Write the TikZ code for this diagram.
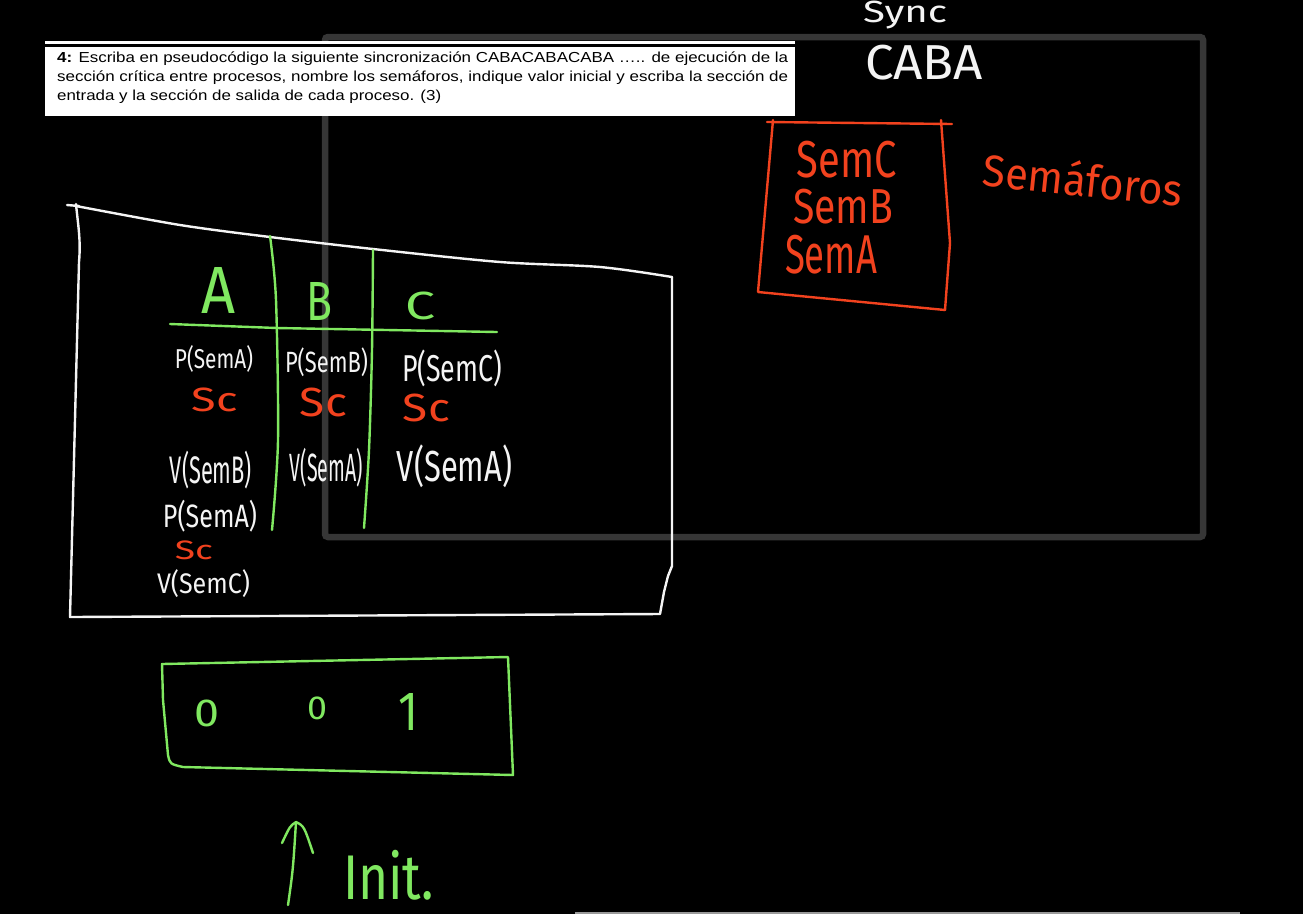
\documentclass[tikz,border=0pt]{standalone}
\usepackage{fontspec}
\setmainfont{Liberation Sans}
\newfontfamily\handfont{Fira Sans}
\usepackage{graphicx}
\definecolor{wht}{HTML}{F4F4F4}
\definecolor{redink}{HTML}{F2421E}
\definecolor{greenink}{HTML}{80E860}
\definecolor{framegray}{HTML}{363636}
\definecolor{linegray}{HTML}{9A9A9A}
\newcommand\hw[3]{\resizebox*{#1pt}{#2pt}{\handfont #3}}
\newcommand\hdrline[2]{\resizebox{#1pt}{\height}{\fontsize{14.5}{16}\selectfont #2}}
\tikzset{
  hand/.style={inner sep=0pt, outer sep=0pt},
  wline/.style={draw=wht, line width=2.4pt, line cap=round, line join=round},
  gline/.style={draw=greenink, line width=2.4pt, line cap=round, line join=round},
  rline/.style={draw=redink, line width=2.4pt, line cap=round, line join=round},
}
\begin{document}
\begin{tikzpicture}[x=1pt,y=-1pt]
\useasboundingbox (0,0) rectangle (1303,914);
\fill[black] (0,0) rectangle (1303,914);
% grey frame
\draw[framegray, line width=6.5pt, rounded corners=3pt] (325,37) rectangle (1203,537);
% header box
\fill[white] (45,41) rectangle (795,116);
\draw[black, line width=2.5pt] (45,45.5) -- (795,45.5);
\node[anchor=base west, inner sep=0pt] (h1) at (57,62) {\hdrline{731}{\textbf{4:} Escriba en pseudocódigo la siguiente sincronización CABACABACABA ….. de ejecución de la}};
\node[anchor=base west, inner sep=0pt] (h2) at (57,81) {\hdrline{731}{sección crítica entre procesos, nombre los semáforos, indique valor inicial y escriba la sección de}};
\node[anchor=base west, inner sep=0pt] (h3) at (57,100) {\hdrline{384}{entrada y la sección de salida de cada proceso. (3)}};
% bottom grey line
\draw[linegray, line width=2pt] (575,912.5) -- (1240,912.5);
% top right handwriting
\node[hand, text=wht] (sync) at (905,15) {\hw{84}{28}{Sync}};
\node[hand, text=wht] (caba) at (924,62.5) {\hw{118}{35}{CABA}};
% sheet outline
\draw[wline] (67,205) -- (79,206);
\draw[wline] plot[smooth] coordinates {(76,206) (180,225) (270,237) (373,249) (500,262) (600,267) (672,277)};
\draw[wline] (76,204) .. controls (78,225) and (81,240) .. (79,262) -- (70,617) -- (660,614) -- (664,592) -- (668,576) -- (672,566) -- (672,277);
% table lines
\draw[gline] plot[smooth] coordinates {(270,236) (276,300) (278,440) (272,530)};
\draw[gline] plot[smooth] coordinates {(373,250) (372,350) (369,450) (364,528)};
\draw[gline] (170,324) -- (277,328) -- (497,332);
% headers
\node[hand, text=greenink] (ha) at (218.5,290) {\hw{34}{46}{A}};
\node[hand, text=greenink] (hb) at (319.5,301) {\hw{26}{38}{B}};
\node[hand, text=greenink] (hc) at (420,306) {\hw{30}{28}{C}};
% column A
\node[hand, text=wht] (pa1) at (214,358.5) {\hw{78}{27}{P(SemA)}};
\node[hand, text=redink] (sca1) at (215,400) {\hw{46}{24}{Sc}};
\node[hand, text=wht] (va1) at (211,470) {\hw{82}{38}{V(SemB)}};
\node[hand, text=wht] (pa2) at (210,516) {\hw{94}{32}{P(SemA)}};
\node[hand, text=redink] (sca2) at (194,550) {\hw{38}{19}{Sc}};
\node[hand, text=wht] (va2) at (203.5,584) {\hw{93}{28}{V(SemC)}};
% column B
\node[hand, text=wht] (pb) at (326.5,362.5) {\hw{83}{29}{P(SemB)}};
\node[hand, text=redink] (scb) at (323.5,402.5) {\hw{47}{29}{Sc}};
\node[hand, text=wht] (vb) at (326.5,467.5) {\hw{73}{39}{V(SemA)}};
% column C
\node[hand, text=wht] (pc) at (452,368.5) {\hw{100}{37}{P(SemC)}};
\node[hand, text=redink] (scc) at (426.5,408) {\hw{47}{28}{Sc}};
\node[hand, text=wht] (vc) at (454.5,466.5) {\hw{115}{43}{V(SemA)}};
% red semaphore box
\draw[rline] (767,122) -- (952,124);
\draw[rline] (773,120) -- (758,292) -- (945,310);
\draw[rline] (941,120) -- (950,243) -- (945,310);
\node[hand, text=redink] (semc) at (847,160) {\hw{100}{37}{SemC}};
\node[hand, text=redink] (semb) at (843,207) {\hw{100}{35}{SemB}};
\node[hand, text=redink] (sema) at (831,255) {\hw{92}{39}{SemA}};
\node[hand, text=redink, rotate=-6] (semaforos) at (1083,179) {\hw{200}{36}{Semáforos}};
% initial values box
\draw[gline] (162,664) -- (508,657) -- (513,775) -- (183,767) .. controls (170,764) .. (168,755) -- (163,700) -- cycle;
\node[hand, text=greenink] (v0a) at (207.5,713.5) {\hw{25}{27}{0}};
\node[hand, text=greenink] (v0b) at (317,708.5) {\hw{20}{23}{0}};
\node[hand, text=greenink] (v1) at (408,711.5) {\hw{20}{37}{1}};
% init arrow
\coordinate (arrbot) at (288,905);
\coordinate (arrtop) at (296,822);
\coordinate (headl) at (282,843);
\coordinate (headr) at (313,853);
\draw[gline] (arrbot) .. controls (293,870) .. (arrtop);
\draw[gline] (headl) .. controls (290,826) .. (arrtop) .. controls (304,826) .. (headr);
\node[hand, text=greenink] (init) at (388.5,875) {\hw{91}{50}{Init.}};
\end{tikzpicture}
\end{document}
